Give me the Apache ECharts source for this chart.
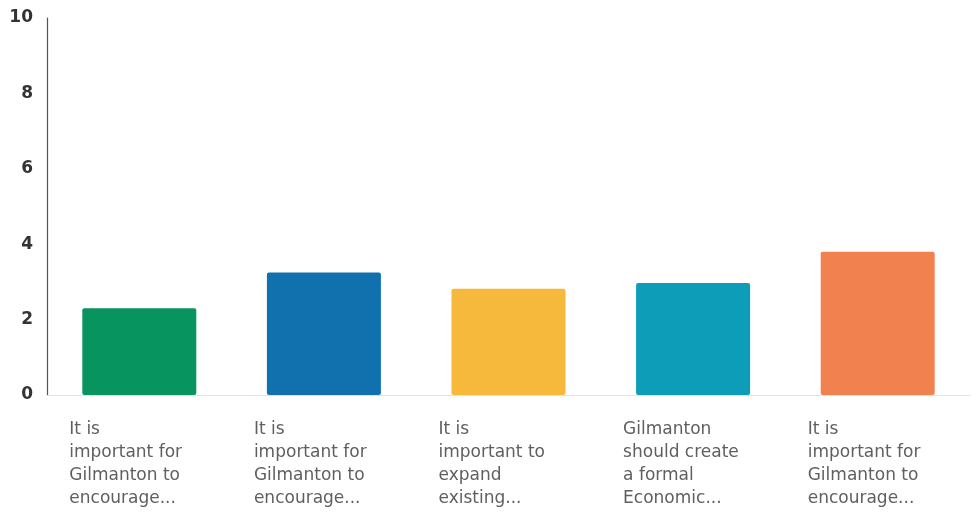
<!DOCTYPE html>
<html>
<head>
<meta charset="utf-8">
<script src="https://cdn.jsdelivr.net/npm/echarts@6/dist/echarts.min.js"></script>
<style>html,body{margin:0;padding:0;background:#fff}#c{width:972px;height:527px}</style>
</head>
<body>
<div id="c"></div>
<script>
const categories = [
  "It is\nimportant for\nGilmanton to\nencourage...",
  "It is\nimportant for\nGilmanton to\nencourage...",
  "It is\nimportant to\nexpand\nexisting...",
  "Gilmanton\nshould create\na formal\nEconomic...",
  "It is\nimportant for\nGilmanton to\nencourage..."
];
const values = [2.3, 3.25, 2.82, 2.97, 3.8];
const colors = ["#08945f", "#1071ae", "#f7b93b", "#0e9db9", "#f1824f"];
const yTicks = [0, 2, 4, 6, 8, 10];

const chart = echarts.init(document.getElementById('c'));
chart.setOption({
  animation: false,
  grid: {left: 47, right: 2, top: 18, bottom: 132, containLabel: false},
  xAxis: {
    type: 'category',
    data: categories,
    axisLine: {lineStyle: {color: '#e2e2e2', width: 1}},
    axisTick: {show: false},
    axisLabel: {
      interval: 0,
      margin: 23,
      align: 'center',
      verticalAlign: 'top',
      fontFamily: '"DejaVu Sans"',
      fontSize: 17,
      formatter: v => '{a|' + v.split('\n').join('}\n{a|') + '}',
      rich: {a: {width: 140, align: 'left', fontFamily: '"DejaVu Sans"', fontSize: 17, lineHeight: 23, color: '#5f5f5f'}}
    }
  },
  yAxis: {
    type: 'value',
    min: yTicks[0],
    max: yTicks[yTicks.length - 1],
    interval: 2,
    axisLine: {show: true, lineStyle: {color: '#555', width: 1.2}},
    axisTick: {show: false},
    splitLine: {show: false},
    axisLabel: {margin: 14, color: '#333', fontFamily: '"DejaVu Sans"', fontSize: 17, fontWeight: 'bold'}
  },
  series: [{
    type: 'bar',
    data: values.map((v, i) => ({value: v, itemStyle: {color: colors[i]}})),
    barWidth: 114,
    itemStyle: {borderRadius: 2}
  }]
});
</script>
</body>
</html>
